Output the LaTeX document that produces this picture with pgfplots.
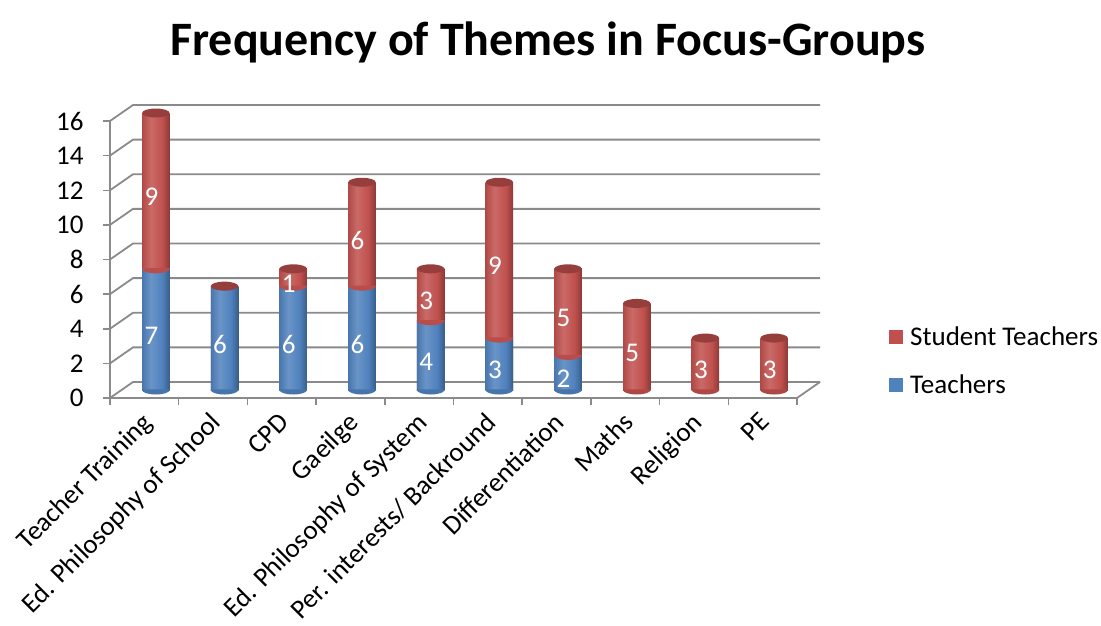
\documentclass[border=0pt]{standalone}
\usepackage{fontspec}
\setmainfont{Carlito}
\usepackage{pgfplots}
\pgfplotsset{compat=1.18}

\definecolor{gridgray}{HTML}{8A8A8A}
\definecolor{tblue}{HTML}{4F81BD}
\definecolor{sred}{HTML}{C0504D}

% cylinder body shadings (light band left of centre, darker right edge)
\pgfdeclarehorizontalshading{cylblue}{100bp}{color(0bp)=(tblue!92!black); color(25bp)=(tblue!92!black); color(41bp)=(tblue!85!white); color(62bp)=(tblue); color(75bp)=(tblue!72!black); color(100bp)=(tblue!72!black)}
\pgfdeclarehorizontalshading{cylred}{100bp}{color(0bp)=(sred!92!black); color(25bp)=(sred!92!black); color(41bp)=(sred!85!white); color(62bp)=(sred); color(75bp)=(sred!72!black); color(100bp)=(sred!72!black)}

% elliptical ends of the cylinders
\pgfdeclareplotmark{captop}{%
  \pgfpathellipse{\pgfpointorigin}{\pgfqpoint{13.75pt}{0pt}}{\pgfqpoint{0pt}{4.5pt}}%
  \pgfusepathqfill}
\pgfdeclareplotmark{halfell}{%
  \pgfpathmoveto{\pgfqpoint{-13.75pt}{0.6pt}}%
  \pgfpathlineto{\pgfqpoint{-13.75pt}{0pt}}%
  \pgfpatharc{180}{360}{13.75pt and 4.5pt}%
  \pgfpathlineto{\pgfqpoint{13.75pt}{0.6pt}}\pgfpathclose
  \pgfusepathqfill}

\newcommand{\lblfont}{\fontsize{27}{32}\selectfont}

\pgfplotsset{
  redcyl/.style={forget plot, ybar, bar shift=0pt, draw=none, shade,
    shading=cylred, xshift=11.5pt, yshift=8pt},
  bluecyl/.style={forget plot, ybar, bar shift=0pt, draw=none, shade,
    shading=cylblue, xshift=11.5pt, yshift=8pt},
}

\begin{document}
\begin{tikzpicture}
\useasboundingbox (-110pt,-227pt) rectangle (991pt,398pt);
\begin{axis}[
  at={(0pt,0pt)}, anchor=south west,
  scale only axis, width=687pt, height=277pt,
  xmin=-0.5, xmax=9.5, ymin=0, ymax=16,
  axis lines*=left,
  axis line style={gridgray, line width=1.8pt},
  tick align=outside,
  major tick length=7pt,
  every tick/.style={gridgray, line width=1.5pt},
  ytick={0,2,...,16},
  yticklabel style={xshift=-16pt},
  xtick={-0.5,0.5,...,9.5},
  xticklabels={},
  extra x ticks={0,1,...,9},
  extra x tick labels={Teacher Training, Ed. Philosophy of School, CPD, Gaeilge,
    Ed. Philosophy of System, Per. interests/ Backround, Differentiation,
    Maths, Religion, PE},
  extra x tick style={major tick length=0pt},
  xticklabel style={xshift=-4pt, yshift=-10pt, rotate=45, anchor=north east,
    inner sep=2pt},
  tick label style={font=\lblfont, text=black},
  /pgf/number format/assume math mode=true,
  bar width=27.5pt,
  legend style={draw=none, fill=none, at={(1.1339,0.1336)}, anchor=west,
    font=\lblfont, row sep=23pt, inner sep=0pt,
    nodes={inner xsep=7pt}},
  legend cell align=left,
  legend image code/.code={\fill[#1] (0pt,-7pt) rectangle (14pt,7pt);},
  clip=false,
]
\addlegendimage{fill=sred, draw=none}
\addlegendentry{Student Teachers}
\addlegendimage{fill=tblue, draw=none}
\addlegendentry{Teachers}

% back wall, side wall and floor edge
\pgfplotsinvokeforeach{0,2,...,16}{
  \draw[gridgray, line width=1.8pt] (axis cs:-0.5,#1) -- ++(23pt,16pt)
    -- ([xshift=23pt,yshift=16pt]axis cs:9.5,#1);
}
\draw[gridgray, line width=1.8pt] (axis cs:9.5,0) -- ++(23pt,16pt);

% Student Teachers cylinders (drawn to the stacked total)
\addplot[redcyl] coordinates {(0,16)};
\addplot[redcyl] coordinates {(1,6)};
\addplot[redcyl] coordinates {(2,7)};
\addplot[redcyl] coordinates {(3,12)};
\addplot[redcyl] coordinates {(4,7)};
\addplot[redcyl] coordinates {(5,12)};
\addplot[redcyl] coordinates {(6,7)};
\addplot[redcyl] coordinates {(7,5)};
\addplot[redcyl] coordinates {(8,3)};
\addplot[redcyl] coordinates {(9,3)};
% Teachers cylinders
\addplot[bluecyl] coordinates {(0,7)};
\addplot[bluecyl] coordinates {(1,6)};
\addplot[bluecyl] coordinates {(2,6)};
\addplot[bluecyl] coordinates {(3,6)};
\addplot[bluecyl] coordinates {(4,4)};
\addplot[bluecyl] coordinates {(5,3)};
\addplot[bluecyl] coordinates {(6,2)};

% rounded bottoms
\addplot[forget plot, only marks, mark=halfell, fill=tblue!90!black, draw=none,
  xshift=11.5pt, yshift=8pt]
  coordinates {(0,0) (1,0) (2,0) (3,0) (4,0) (5,0) (6,0)};
\addplot[forget plot, only marks, mark=halfell, fill=sred!90!black, draw=none,
  xshift=11.5pt, yshift=8pt]
  coordinates {(7,0) (8,0) (9,0)};
% curved join between the two segments
\addplot[forget plot, only marks, mark=halfell, fill=sred!96!black, draw=none,
  xshift=11.5pt, yshift=8pt]
  coordinates {(0,7) (2,6) (3,6) (4,4) (5,3) (6,2)};
% top caps
\addplot[forget plot, only marks, mark=captop, fill=sred!78!black, draw=none,
  xshift=11.5pt, yshift=8pt]
  coordinates {(0,16) (1,6) (2,7) (3,12) (4,7) (5,12) (6,7) (7,5) (8,3) (9,3)};

% value labels
\addplot[forget plot, draw=none, mark=none, nodes near coords,
  point meta=explicit symbolic,
  every node near coord/.style={anchor=center, text=white, font=\lblfont,
    xshift=7pt, yshift=2pt}]
  coordinates {(0,3.5)[7] (1,3)[6] (2,3)[6] (3,3)[6] (4,2)[4] (5,1.5)[3] (6,1)[2]
    (0,11.5)[9] (2,6.5)[1] (3,9)[6] (4,5.5)[3] (5,7.5)[9] (6,4.5)[5]
    (7,2.5)[5] (8,1.5)[3] (9,1.5)[3]};
\end{axis}
\node[font=\fontsize{48}{56}\selectfont\bfseries] at (438pt,356pt)
  {Frequency of Themes in Focus-Groups};
\end{tikzpicture}
\end{document}
